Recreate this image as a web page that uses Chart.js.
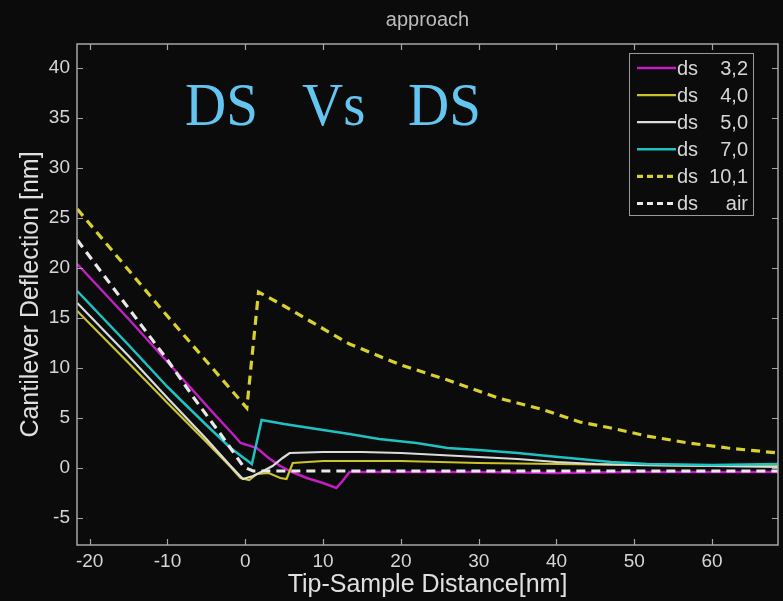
<!DOCTYPE html>
<html>
<head>
<meta charset="utf-8">
<script src="https://cdn.jsdelivr.net/npm/chart.js@4.4.1/dist/chart.umd.min.js"></script>
<style>
  html, body { margin: 0; padding: 0; background: #0b0b0b; }
  #wrap { width: 783px; height: 601px; }
</style>
</head>
<body>
<div id="wrap"><canvas id="c" width="783" height="601"></canvas></div>
<script>
// ---- data ----
const xTickValues = [-20, -10, 0, 10, 20, 30, 40, 50, 60];
const yTickValues = [-5, 0, 5, 10, 15, 20, 25, 30, 35, 40];
const seriesLabels = ['ds 3,2', 'ds 4,0', 'ds 5,0', 'ds 7,0', 'ds 10,1', 'ds air'];
const chartTitle = 'approach';
const xTitle = 'Tip-Sample Distance[nm]';
const yTitle = 'Cantilever Deflection [nm]';
const annotationWords = ['DS', 'Vs', 'DS'];

const ds32X = [-21.6, -15, -10, -7, -4, -2.8, -1.5, -0.6, 1.5, 3, 4.5, 6, 7.9, 10, 11.7, 12.5, 13.4, 20, 30, 40, 50, 60, 68.5];
const ds32Y = [20.4, 14.9, 10.6, 8.0, 5.4, 4.4, 3.3, 2.5, 2.0, 1.0, 0.2, -0.4, -1.0, -1.5, -2.0, -1.3, -0.4, -0.4, -0.4, -0.5, -0.4, -0.4, -0.4];

const ds40X = [-21.6, -15, -10, -5, -2, -0.6, 0.5, 1.5, 3, 4.5, 5.3, 6.1, 10, 20, 30, 40, 50, 60, 68.5];
const ds40Y = [15.7, 10.5, 6.5, 2.6, 0.2, -1.0, -1.2, -0.6, -0.5, -1.0, -1.1, 0.5, 0.7, 0.7, 0.5, 0.4, 0.3, 0.2, 0.2];

const ds50X = [-21.6, -15, -10, -5, -2, -0.3, 1, 2.3, 3.5, 4.8, 5.7, 10, 15, 20, 25, 30, 35, 40, 45, 50, 60, 68.5];
const ds50Y = [16.5, 11.2, 7.0, 2.9, 0.3, -1.1, -0.8, -0.3, 0.2, 1.0, 1.5, 1.6, 1.6, 1.5, 1.3, 1.1, 0.9, 0.6, 0.4, 0.3, 0.2, 0.1];

const ds70X = [-21.6, -15, -10, -8.3, -5, -1.9, 0.85, 2.1, 5, 10, 13.4, 17.2, 22, 26, 30, 35, 38.9, 43, 47, 51.6, 60, 68.5];
const ds70Y = [17.7, 12.3, 8.1, 6.8, 4.3, 2.0, 0.4, 4.8, 4.4, 3.8, 3.4, 2.9, 2.5, 2.0, 1.8, 1.5, 1.2, 0.9, 0.6, 0.4, 0.3, 0.4];

const ds101X = [-21.6, -10.8, 0.2, 1.7, 5, 8.3, 13.4, 20, 26, 32.5, 38, 43, 47, 51.6, 57, 62, 68.5];
const ds101Y = [25.9, 15.9, 6.0, 17.6, 16.2, 14.7, 12.4, 10.3, 8.8, 7.0, 5.9, 4.6, 4.0, 3.2, 2.5, 2.0, 1.5];

const dsAirX = [-21.6, -10, -6.6, -3, -0.2, 1, 20, 40, 68.5];
const dsAirY = [22.8, 10.8, 7.0, 3.2, 0.1, -0.3, -0.3, -0.3, -0.3];

// ---- styles ----
const styles = [
  { color: '#c21fc2', width: 2.5, dash: [], order: 5 },
  { color: '#cbc32a', width: 2.2, dash: [], order: 4 },
  { color: '#dcdcdc', width: 2.2, dash: [], order: 3 },
  { color: '#1fc2c2', width: 2.5, dash: [], order: 2 },
  { color: '#d8d02e', width: 3.2, dash: [9, 6], order: 1 },
  { color: '#e8e8e8', width: 3.2, dash: [9, 6], order: 0 }
];
const seriesX = [ds32X, ds40X, ds50X, ds70X, ds101X, dsAirX];
const seriesY = [ds32Y, ds40Y, ds50Y, ds70Y, ds101Y, dsAirY];

const datasets = seriesLabels.map((label, i) => ({
  label: label,
  data: seriesX[i].map((x, j) => ({ x: x, y: seriesY[i][j] })),
  borderColor: styles[i].color,
  backgroundColor: styles[i].color,
  borderWidth: styles[i].width,
  borderDash: styles[i].dash,
  order: styles[i].order,
  pointRadius: 0,
  tension: 0,
  fill: false
}));

const FRAME = '#a6a6a6';
const TEXT = '#d6d6d6';
Chart.defaults.font.family = '"Liberation Sans", Arial, sans-serif';

const decor = {
  id: 'decor',
  beforeDraw(chart) {
    const ctx = chart.ctx;
    ctx.save();
    ctx.fillStyle = '#0b0b0b';
    ctx.fillRect(0, 0, chart.width, chart.height);
    ctx.restore();
  },
  afterDatasetsDraw(chart) {
    const ctx = chart.ctx;
    const a = chart.chartArea;
    const xs = chart.scales.x, ys = chart.scales.y;
    ctx.save();
    // frame
    ctx.strokeStyle = FRAME;
    ctx.lineWidth = 1.5;
    ctx.setLineDash([]);
    ctx.strokeRect(a.left, a.top, a.right - a.left, a.bottom - a.top);
    // inward tick marks on all four sides
    ctx.lineWidth = 1.2;
    const tl = 6;
    ctx.beginPath();
    xTickValues.forEach(v => {
      const px = Math.round(xs.getPixelForValue(v)) + 0.5;
      ctx.moveTo(px, a.bottom); ctx.lineTo(px, a.bottom - tl);
      ctx.moveTo(px, a.top); ctx.lineTo(px, a.top + tl);
    });
    yTickValues.forEach(v => {
      const py = Math.round(ys.getPixelForValue(v)) + 0.5;
      ctx.moveTo(a.left, py); ctx.lineTo(a.left + tl, py);
      ctx.moveTo(a.right, py); ctx.lineTo(a.right - tl, py);
    });
    ctx.stroke();

    // annotation text "DS Vs DS"
    ctx.fillStyle = '#62c6f0';
    ctx.font = '62px "Liberation Serif", "DejaVu Serif", serif';
    ctx.textBaseline = 'alphabetic';
    ctx.textAlign = 'left';
    const wordX = [a.left + 108, a.left + 225, a.left + 331];
    const baseY = a.top + 81;
    annotationWords.forEach((w, i) => {
      ctx.save();
      ctx.translate(wordX[i], baseY);
      ctx.scale(0.92, 1);
      ctx.fillText(w, 0, 0);
      ctx.restore();
    });

    // legend box
    const bx = a.right - 149, by = a.top + 9, bw = 124, bh = 162;
    ctx.fillStyle = '#0b0b0b';
    ctx.fillRect(bx, by, bw, bh);
    ctx.strokeStyle = '#9a9a9a';
    ctx.lineWidth = 1;
    ctx.strokeRect(bx + 0.5, by + 0.5, bw, bh);
    ctx.font = '20px "Liberation Sans", Arial, sans-serif';
    ctx.textBaseline = 'middle';
    seriesLabels.forEach((lab, i) => {
      const cy = by + 15 + i * 27.1;
      const st = styles[i];
      ctx.strokeStyle = st.color;
      ctx.lineWidth = st.width;
      ctx.setLineDash(st.dash.length ? [6, 4] : []);
      ctx.beginPath();
      ctx.moveTo(bx + 8, cy);
      ctx.lineTo(bx + 47, cy);
      ctx.stroke();
      ctx.setLineDash([]);
      const parts = lab.split(' ');
      ctx.fillStyle = TEXT;
      ctx.textAlign = 'left';
      ctx.fillText(parts[0], bx + 48, cy + 1);
      ctx.textAlign = 'right';
      ctx.fillText(parts[1], bx + bw - 5, cy + 1);
    });
    ctx.restore();
  }
};

new Chart(document.getElementById('c'), {
  type: 'line',
  data: { datasets: datasets },
  plugins: [decor],
  options: {
    responsive: false,
    animation: false,
    events: [],
    layout: { padding: { left: 0, right: 5, top: 0, bottom: 0 } },
    plugins: {
      legend: { display: false },
      tooltip: { enabled: false },
      title: {
        display: true,
        text: chartTitle,
        fullSize: false,
        color: '#bcbcbc',
        font: { size: 20, weight: 'normal' },
        padding: { top: 8, bottom: 12 }
      }
    },
    scales: {
      x: {
        type: 'linear',
        min: -21.63,
        max: 68.47,
        afterFit(s) { s.height = 56; },
        afterBuildTicks(s) { s.ticks = xTickValues.map(v => ({ value: v })); },
        grid: { display: false, drawTicks: false },
        border: { display: false },
        ticks: { color: TEXT, font: { size: 19 }, padding: 5, autoSkip: false, maxRotation: 0 },
        title: { display: true, text: xTitle, color: '#e0e0e0', font: { size: 25 }, padding: { top: 0, bottom: 1 } }
      },
      y: {
        type: 'linear',
        min: -7.7,
        max: 42.4,
        afterFit(s) { s.width = 77; },
        afterBuildTicks(s) { s.ticks = yTickValues.map(v => ({ value: v })); },
        grid: { display: false, drawTicks: false },
        border: { display: false },
        ticks: { color: TEXT, font: { size: 19 }, padding: 7, autoSkip: false },
        title: { display: true, text: yTitle, color: '#e0e0e0', font: { size: 25 }, padding: { top: 16, bottom: 0 } }
      }
    }
  }
});
</script>
</body>
</html>
